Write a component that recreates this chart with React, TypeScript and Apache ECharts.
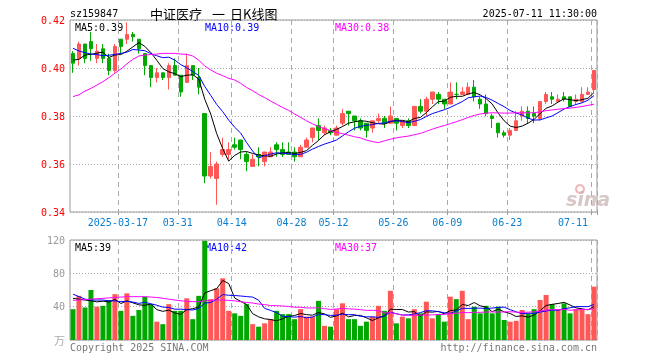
import React, { useEffect, useRef } from 'react';
import * as echarts from 'echarts';

const dates = [
  '2025-03-05','2025-03-06','2025-03-07','2025-03-10','2025-03-11','2025-03-12','2025-03-13','2025-03-14','2025-03-17','2025-03-18',
  '2025-03-19','2025-03-20','2025-03-21','2025-03-24','2025-03-25','2025-03-26','2025-03-27','2025-03-28','2025-03-31','2025-04-01',
  '2025-04-02','2025-04-03','2025-04-07','2025-04-08','2025-04-09','2025-04-10','2025-04-11','2025-04-14','2025-04-15','2025-04-16',
  '2025-04-17','2025-04-18','2025-04-21','2025-04-22','2025-04-23','2025-04-24','2025-04-25','2025-04-28','2025-04-29','2025-04-30',
  '2025-05-06','2025-05-07','2025-05-08','2025-05-09','2025-05-12','2025-05-13','2025-05-14','2025-05-15','2025-05-16','2025-05-19',
  '2025-05-20','2025-05-21','2025-05-22','2025-05-23','2025-05-26','2025-05-27','2025-05-28','2025-05-29','2025-05-30','2025-06-03',
  '2025-06-04','2025-06-05','2025-06-06','2025-06-09','2025-06-10','2025-06-11','2025-06-12','2025-06-13','2025-06-16','2025-06-17',
  '2025-06-18','2025-06-19','2025-06-20','2025-06-23','2025-06-24','2025-06-25','2025-06-26','2025-06-27','2025-06-30','2025-07-01',
  '2025-07-02','2025-07-03','2025-07-04','2025-07-07','2025-07-08','2025-07-09','2025-07-10','2025-07-11'
];

const opens = [
  0.406,0.404,0.410,0.411,0.404,0.408,0.404,0.399,0.412,0.412,
  0.414,0.412,0.406,0.401,0.396,0.398,0.396,0.401,0.397,0.394,
  0.401,0.396,0.381,0.355,0.354,0.364,0.364,0.368,0.370,0.364,
  0.359,0.364,0.361,0.363,0.368,0.366,0.365,0.365,0.363,0.367,
  0.371,0.376,0.373,0.374,0.372,0.377,0.382,0.380,0.378,0.377,
  0.375,0.378,0.379,0.377,0.379,0.376,0.378,0.376,0.384,0.382,
  0.387,0.389,0.387,0.385,0.389,0.389,0.389,0.392,0.387,0.385,
  0.380,0.377,0.373,0.372,0.374,0.380,0.382,0.381,0.379,0.386,
  0.388,0.386,0.388,0.388,0.386,0.386,0.389,0.391
];
const closes = [
  0.402,0.410,0.404,0.408,0.407,0.404,0.399,0.409,0.409,0.414,
  0.413,0.408,0.401,0.396,0.398,0.396,0.401,0.397,0.390,0.401,
  0.397,0.392,0.355,0.359,0.360,0.366,0.366,0.367,0.366,0.361,
  0.362,0.363,0.365,0.365,0.366,0.364,0.364,0.363,0.367,0.370,
  0.375,0.374,0.375,0.373,0.375,0.381,0.381,0.378,0.375,0.374,
  0.378,0.379,0.377,0.380,0.377,0.378,0.376,0.384,0.382,0.387,
  0.390,0.387,0.385,0.390,0.389,0.390,0.392,0.388,0.385,0.381,
  0.379,0.373,0.372,0.374,0.378,0.382,0.379,0.380,0.386,0.389,
  0.387,0.387,0.387,0.384,0.387,0.389,0.390,0.399
];
const lows = [
  0.398,0.401,0.402,0.403,0.402,0.402,0.397,0.398,0.406,0.410,
  0.411,0.406,0.397,0.392,0.394,0.395,0.391,0.397,0.388,0.394,
  0.395,0.389,0.352,0.354,0.343,0.363,0.362,0.366,0.362,0.357,
  0.359,0.359,0.359,0.363,0.363,0.363,0.364,0.361,0.363,0.367,
  0.369,0.370,0.372,0.372,0.372,0.376,0.376,0.374,0.374,0.371,
  0.373,0.377,0.375,0.377,0.374,0.375,0.375,0.376,0.381,0.380,
  0.385,0.385,0.383,0.385,0.387,0.389,0.389,0.386,0.383,0.380,
  0.375,0.371,0.371,0.370,0.374,0.378,0.377,0.377,0.378,0.385,
  0.385,0.386,0.386,0.384,0.385,0.386,0.389,0.390
];
const highs = [
  0.407,0.411,0.410,0.415,0.410,0.410,0.406,0.410,0.412,0.419,
  0.415,0.412,0.406,0.401,0.400,0.398,0.402,0.404,0.397,0.406,
  0.401,0.400,0.381,0.365,0.361,0.371,0.369,0.371,0.370,0.365,
  0.364,0.367,0.365,0.367,0.369,0.369,0.369,0.367,0.368,0.371,
  0.375,0.379,0.376,0.375,0.376,0.383,0.382,0.380,0.379,0.377,
  0.378,0.381,0.380,0.384,0.379,0.378,0.379,0.384,0.387,0.388,
  0.390,0.390,0.387,0.394,0.394,0.392,0.394,0.395,0.388,0.389,
  0.381,0.377,0.374,0.375,0.382,0.384,0.384,0.384,0.386,0.390,
  0.390,0.389,0.390,0.388,0.389,0.392,0.392,0.399
];
const volumes = [
  37,53,39,60,40,41,48,55,35,56,
  29,36,52,43,22,19,43,35,35,50,
  25,53,119,49,62,74,35,32,29,43,
  19,16,20,25,35,31,31,25,37,28,
  28,47,17,16,37,44,25,25,17,22,
  28,41,35,59,20,28,26,37,32,46,
  26,31,22,52,49,59,25,40,32,41,
  32,40,24,22,23,36,32,37,48,54,
  43,37,44,32,37,37,31,64
];

// Moving-average values at the left edge (their windows start before the first bar shown)
const ma5Lead = [0.4033, 0.4036, 0.4054, 0.4057];
const ma10Lead = [0.4082, 0.4071, 0.4064, 0.4058, 0.4056, 0.4051, 0.4053, 0.4057, 0.4061];
const ma30Lead = [
  0.3881,0.3888,0.3904,0.3915,0.3929,0.3943,0.3960,0.3978,0.3996,0.4017,
  0.4036,0.4050,0.4054,0.4056,0.4058,0.4061,0.4061,0.4061,0.4058,0.4057,
  0.4050,0.4033,0.4008,0.3992,0.3978,0.3968,0.3957,0.3950,0.3936
];
const volMa5Lead = [50, 49, 48, 47];
const volMa10Lead = [55, 52, 49, 48, 48, 48, 47, 47, 46];
const volMa30Lead = [
  47.6,48,48.5,49,49.5,50,50.5,51,51.5,52,
  52,52,52,51.5,51,50,49,48,47,46.5,
  46,46,47,47.5,48,48,47.5,47,46
];

const labelDays = ['2025-03-17','2025-03-31','2025-04-14','2025-04-28','2025-05-12','2025-05-26','2025-06-09','2025-06-23','2025-07-11'];
const priceLegend = ['MA5:0.39', 'MA10:0.39', 'MA30:0.38'];
const volLegend = ['MA5:39', 'MA10:42', 'MA30:37'];
const priceAxis = { min: 0.34, max: 0.42, step: 0.02 };
const volAxis = { min: 0, max: 120, step: 40 };

const RED = '#ff5656';
const GREEN = '#00a800';
const MA_COLORS = ['#000000', '#0000ff', '#ff00ff'];
const MONO = '"DejaVu Sans Mono", monospace';
const CJK = '"Noto Sans CJK SC", sans-serif';

function movingAverage(values: number[], n: number, lead: number[]) {
  return values.map((_, i) => {
    if (i < n - 1) return lead[i];
    let s = 0;
    for (let k = i - n + 1; k <= i; k++) s += values[k];
    return +(s / n).toFixed(5);
  });
}

function isUp(i: number) {
  if (closes[i] > opens[i]) return true;
  if (closes[i] < opens[i]) return false;
  return i > 0 ? closes[i - 1] <= closes[i] : true;
}

export default function App() {
  const ref = useRef<HTMLDivElement>(null);
  useEffect(() => {
    if (!ref.current) return;
    const chart = echarts.init(ref.current, null, { renderer: 'svg' });
    const showIdx = (i: number) => labelDays.includes(dates[i]);
    const ma = [movingAverage(closes, 5, ma5Lead), movingAverage(closes, 10, ma10Lead), movingAverage(closes, 30, ma30Lead)];
    const vma = [movingAverage(volumes, 5, volMa5Lead), movingAverage(volumes, 10, volMa10Lead), movingAverage(volumes, 30, volMa30Lead)];
    const splitLine = { show: true, interval: (i: number) => showIdx(i), lineStyle: { color: '#aaaaaa', type: [5, 4], width: 1 } };
    const dotted = { show: true, lineStyle: { color: '#aaaaaa', type: [1, 2], width: 1 } };
    const txt = (text: string, x: number, y: number, fill: string, align = 'left', font = `10px ${MONO}`) => ({
      type: 'text', x, y, silent: true,
      style: { text, fill, font, textAlign: align, textVerticalAlign: 'middle' },
    });

    const option: any = {
      animation: false,
      grid: [
        { left: 70, top: 20, width: 527, height: 192, show: true, borderColor: '#999', borderWidth: 1 },
        { left: 70, top: 240, width: 527, height: 100, show: true, borderColor: '#999', borderWidth: 1 },
      ],
      xAxis: [
        {
          type: 'category', gridIndex: 0, data: dates, boundaryGap: true,
          axisLine: { show: false },
          axisTick: { show: true, interval: (i: number) => showIdx(i), length: 3, lineStyle: { color: '#999' } },
          axisLabel: {
            interval: (i: number) => showIdx(i),
            formatter: (v: string) => (v === labelDays[0] ? v : v.slice(5)),
            color: '#0a80d0', fontFamily: MONO, fontSize: 10, margin: 5, padding: [0, 6, 0, 0], alignMaxLabel: 'right',
          },
          splitLine,
        },
        {
          type: 'category', gridIndex: 1, data: dates, boundaryGap: true,
          axisLine: { show: false }, axisTick: { show: false }, axisLabel: { show: false },
          splitLine,
        },
      ],
      yAxis: [
        {
          type: 'value', gridIndex: 0, min: priceAxis.min, max: priceAxis.max, interval: priceAxis.step,
          axisLine: { show: false }, axisTick: { show: false },
          axisLabel: { color: '#ff0000', fontFamily: MONO, fontSize: 10, margin: 5, formatter: (v: number) => v.toFixed(2) },
          splitLine: dotted,
        },
        {
          type: 'value', gridIndex: 1, min: volAxis.min, max: volAxis.max, interval: volAxis.step,
          axisLine: { show: false }, axisTick: { show: false },
          axisLabel: { color: '#999999', fontFamily: MONO, fontSize: 10, margin: 5, formatter: (v: number) => (v === 0 ? '' : String(v)) },
          splitLine: dotted,
        },
      ],
      series: [
        {
          type: 'candlestick', xAxisIndex: 0, yAxisIndex: 0, barWidth: 4,
          data: dates.map((_, i) => [opens[i], closes[i], lows[i], highs[i]]),
          itemStyle: { color: RED, color0: GREEN, borderColor: RED, borderColor0: GREEN, borderWidth: 1 },
        },
        ...ma.map((d, k) => ({
          type: 'line', xAxisIndex: 0, yAxisIndex: 0, data: d, showSymbol: false, symbol: 'none',
          lineStyle: { color: MA_COLORS[k], width: 1 }, z: 3,
        })),
        {
          type: 'bar', xAxisIndex: 1, yAxisIndex: 1, barWidth: 5,
          data: volumes.map((v, i) => ({ value: v, itemStyle: { color: isUp(i) ? RED : GREEN } })),
        },
        ...vma.map((d, k) => ({
          type: 'line', xAxisIndex: 1, yAxisIndex: 1, data: d, showSymbol: false, symbol: 'none',
          lineStyle: { color: MA_COLORS[k], width: 1 }, z: 3,
        })),
      ],
      graphic: [
        txt('sz159847', 70, 13, '#000'),
        txt('中证医疗', 150, 13, '#000', 'left', `13px ${CJK}`),
        txt('一', 212, 13, '#000', 'left', `13px ${CJK}`),
        txt('日K线图', 230, 13, '#000', 'left', `13px ${CJK}`),
        txt('2025-07-11 11:30:00', 597, 13, '#000', 'right'),
        txt(priceLegend[0], 75, 27, MA_COLORS[0]),
        txt(priceLegend[1], 205, 27, MA_COLORS[1]),
        txt(priceLegend[2], 335, 27, MA_COLORS[2]),
        txt(volLegend[0], 75, 247, MA_COLORS[0]),
        txt(volLegend[1], 205, 247, MA_COLORS[1]),
        txt(volLegend[2], 335, 247, MA_COLORS[2]),
        txt('万', 65, 340, '#aaaaaa', 'right', `11px ${CJK}`),
        txt('Copyright 2025 SINA.COM', 70, 347, '#777777'),
        txt('http://finance.sina.com.cn', 597, 347, '#777777', 'right'),
        { type: 'circle', silent: true, shape: { cx: 580, cy: 189, r: 4 }, style: { fill: 'none', stroke: 'rgba(235,150,150,0.7)', lineWidth: 2 } },
        txt('sina', 566, 199, 'rgba(200,175,175,0.7)', 'left', `italic bold 19px "DejaVu Sans", sans-serif`),
      ],
    };
    chart.setOption(option);
    return () => chart.dispose();
  }, []);
  return <div ref={ref} style={{ position: 'fixed', left: 0, top: 0, width: 660, height: 360 }} />;
}
